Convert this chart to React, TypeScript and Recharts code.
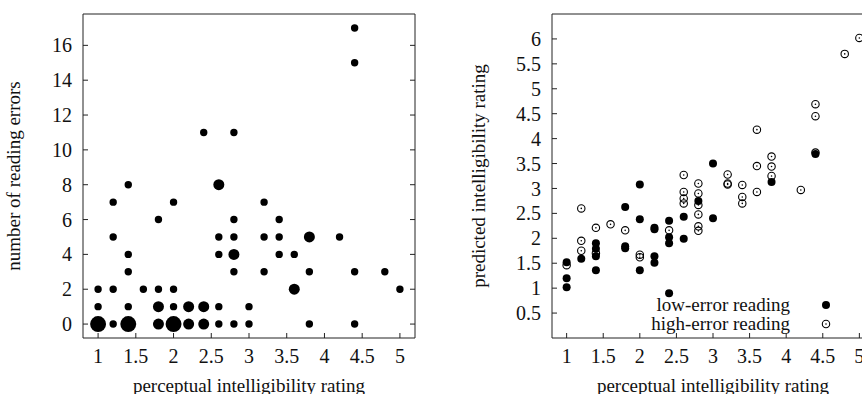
import React from "react";
import { ScatterChart, Scatter, XAxis, YAxis, ZAxis, Legend, Label } from "recharts";

// left panel: rating vs number of reading errors, n = readings sharing the point
const errRating = [
  1, 1, 1, 1.2, 1.2, 1.2, 1.2, 1.4, 1.4, 1.4, 1.4, 1.4, 1.6, 1.8, 1.8, 1.8, 1.8,
  2, 2, 2, 2, 2.2, 2.2, 2.4, 2.4, 2.4, 2.6, 2.6, 2.6, 2.6, 2.6, 2.8, 2.8, 2.8,
  2.8, 2.8, 2.8, 3, 3, 3.2, 3.2, 3.2, 3.4, 3.4, 3.4, 3.6, 3.6, 3.8, 3.8, 3.8,
  4.2, 4.4, 4.4, 4.4, 4.4, 4.8, 5,
];
const errCount = [
  2, 1, 0, 7, 5, 2, 0, 8, 4, 3, 1, 0, 2, 6, 2, 1, 0,
  7, 2, 1, 0, 1, 0, 11, 1, 0, 8, 5, 4, 1, 0, 11, 6, 5,
  4, 3, 0, 1, 0, 7, 5, 3, 6, 5, 4, 4, 2, 5, 3, 0,
  5, 17, 15, 3, 0, 3, 2,
];
const errWeight = [
  1, 1, 4, 1, 1, 1, 1, 1, 1, 1, 1, 4, 1, 1, 1, 2, 2,
  1, 1, 1, 4, 2, 2, 1, 2, 2, 2, 1, 1, 1, 1, 1, 1, 1,
  2, 1, 1, 1, 1, 1, 1, 1, 1, 1, 1, 1, 2, 2, 1, 1,
  1, 1, 1, 1, 1, 1, 1,
];

// right panel: perceptual vs predicted rating
const lowRating = [
  1, 1, 1, 1.2, 1.4, 1.4, 1.4, 1.4, 1.8, 1.8, 1.8, 2, 2, 2, 2.2, 2.2, 2.2, 2.2,
  2.4, 2.4, 2.4, 2.4, 2.6, 2.6, 2.8, 3, 3, 3.8, 4.4,
];
const lowPredicted = [
  1.52, 1.2, 1.02, 1.59, 1.9, 1.79, 1.64, 1.36, 2.63, 1.84, 1.8, 3.08, 2.38, 1.36,
  2.21, 2.18, 1.64, 1.51, 2.35, 2.02, 1.9, 0.9, 2.43, 1.99, 2.75, 3.5, 2.4, 3.13,
  3.69,
];
const highRating = [
  1, 1.2, 1.2, 1.2, 1.4, 1.4, 1.6, 1.8, 2, 2, 2.4, 2.6, 2.6, 2.6, 2.6, 2.8, 2.8,
  2.8, 2.8, 2.8, 2.8, 3.2, 3.2, 3.2, 3.4, 3.4, 3.4, 3.6, 3.6, 3.6, 3.8, 3.8, 3.8,
  4.2, 4.4, 4.4, 4.4, 4.8, 5,
];
const highPredicted = [
  1.46, 2.6, 1.95, 1.75, 2.21, 1.7, 2.28, 2.16, 1.67, 1.62, 2.16, 3.27, 2.93, 2.8,
  2.7, 3.1, 2.9, 2.67, 2.48, 2.24, 2.15, 3.28, 3.1, 3.08, 3.07, 2.83, 2.7, 4.18,
  3.45, 2.93, 3.64, 3.44, 3.25, 2.97, 4.69, 4.45, 3.72, 5.7, 6.02,
];

const ratingTicks = [1, 1.5, 2, 2.5, 3, 3.5, 4, 4.5, 5];
const errTicks = [0, 2, 4, 6, 8, 10, 12, 14, 16];
const predTicks = [0.5, 1, 1.5, 2, 2.5, 3, 3.5, 4, 4.5, 5, 5.5, 6];

const errData = errRating.map((x, i) => ({ x, y: errCount[i], n: errWeight[i] }));
const lowData = lowRating.map((x, i) => ({ x, y: lowPredicted[i] }));
const highData = highRating.map((x, i) => ({ x, y: highPredicted[i] }));

const FONT = "'Liberation Serif', 'Times New Roman', serif";
const INK = "#111";
const tickStyle = { fontSize: 20, fill: INK, fontFamily: FONT };
const titleStyle = { fontSize: 19, fill: INK, fontFamily: FONT, textAnchor: "middle" as const };
const blank = () => "";

const FilledMark = (props: any) => (
  <circle cx={props.cx} cy={props.cy} r={4} fill="#000" />
);

const OpenMark = (props: any) => (
  <g>
    <circle cx={props.cx} cy={props.cy} r={3.7} fill="none" stroke="#000" strokeWidth={1.1} />
    <circle cx={props.cx} cy={props.cy} r={0.8} fill="#000" />
  </g>
);

const KeyBox = () => (
  <svg width={230} height={44} style={{ display: "block" }}>
    <text x={179} y={18} textAnchor="end" fontSize={19} fontFamily={FONT} fill={INK}>
      low-error reading
    </text>
    <circle cx={215} cy={12} r={4} fill="#000" />
    <text x={179} y={37} textAnchor="end" fontSize={19} fontFamily={FONT} fill={INK}>
      high-error reading
    </text>
    <circle cx={215} cy={31} r={3.7} fill="none" stroke="#000" strokeWidth={1.1} />
    <circle cx={215} cy={31} r={0.8} fill="#000" />
  </svg>
);

// four axes per panel so the box has inward ticks on every side
const frame = (xDomain: number[], yDomain: number[], yTicks: number[], yWidth: number, yTitle: string, yTitleOffset: number) => [
  <XAxis
    key="xb"
    xAxisId="b"
    type="number"
    dataKey="x"
    orientation="bottom"
    domain={xDomain}
    ticks={ratingTicks}
    interval={0}
    allowDataOverflow
    height={56}
    tickSize={-5}
    tickMargin={16}
    tick={tickStyle}
    stroke="#222"
  >
    <Label value="perceptual intelligibility rating" position="insideBottom" offset={2} style={titleStyle} />
  </XAxis>,
  <XAxis
    key="xt"
    xAxisId="t"
    type="number"
    orientation="top"
    domain={xDomain}
    ticks={ratingTicks}
    interval={0}
    allowDataOverflow
    height={1}
    tickSize={-5}
    tickFormatter={blank}
    stroke="#222"
  />,
  <YAxis
    key="yl"
    yAxisId="l"
    type="number"
    dataKey="y"
    domain={yDomain}
    ticks={yTicks}
    interval={0}
    allowDataOverflow
    width={yWidth}
    tickSize={-5}
    tickMargin={16}
    tick={tickStyle}
    stroke="#222"
  >
    <Label value={yTitle} angle={-90} position="insideLeft" offset={yTitleOffset} style={titleStyle} />
  </YAxis>,
  <YAxis
    key="yr"
    yAxisId="r"
    type="number"
    orientation="right"
    domain={yDomain}
    ticks={yTicks}
    interval={0}
    allowDataOverflow
    width={1}
    tickSize={-5}
    tickFormatter={blank}
    stroke="#222"
  />,
];

export default function App() {
  return (
    <div
      style={{
        position: "absolute",
        left: 0,
        top: 0,
        width: 862,
        height: 394,
        overflow: "hidden",
        background: "#fff",
        fontFamily: FONT,
      }}
    >
      <div style={{ position: "absolute", left: 0, top: 0 }}>
        <ScatterChart width={431} height={394} margin={{ top: 13, right: 15, bottom: 0, left: 0 }}>
          {frame([0.8, 5.2], [-0.8, 17.8], errTicks, 83, "number of reading errors", 13)}
          <ZAxis zAxisId={0} dataKey="n" type="number" domain={[1, 4]} range={[43, 199]} />
          <Scatter xAxisId="b" yAxisId="l" data={errData} fill="#000" isAnimationActive={false} />
        </ScatterChart>
      </div>
      <div style={{ position: "absolute", left: 431, top: 0 }}>
        <ScatterChart width={453} height={394} margin={{ top: 13, right: 9, bottom: 0, left: 0 }}>
          {frame([0.8, 5.2], [0, 6.5], predTicks, 121, "predicted intelligibility rating", 47)}
          <Legend
            layout="horizontal"
            verticalAlign="middle"
            align="center"
            content={<KeyBox />}
            wrapperStyle={{ left: 180, top: 293, width: 230, height: 44 }}
          />
          <Scatter
            name="high-error reading"
            xAxisId="b"
            yAxisId="l"
            data={highData}
            shape={<OpenMark />}
            isAnimationActive={false}
          />
          <Scatter
            name="low-error reading"
            xAxisId="b"
            yAxisId="l"
            data={lowData}
            shape={<FilledMark />}
            isAnimationActive={false}
          />
        </ScatterChart>
      </div>
    </div>
  );
}
